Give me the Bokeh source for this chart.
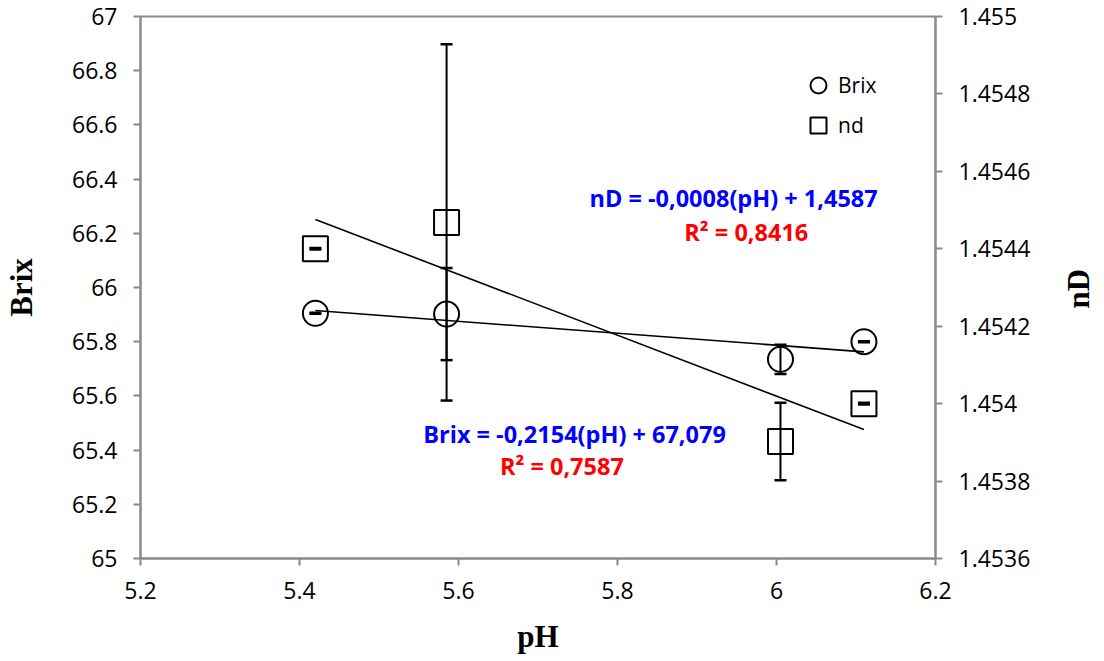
import numpy as np
from bokeh.plotting import figure
from bokeh.layouts import row
from bokeh.models import (Range1d, LinearAxis, FixedTicker, CustomJSTickFormatter,
                          Whisker, TeeHead, ColumnDataSource, Legend, LegendItem, Label)
from bokeh.core.properties import value
from bokeh.embed import file_html
from bokeh.resources import INLINE

# ---- data ----
ph = [5.42, 5.585, 6.005, 6.11]
brix = [65.905, 65.902, 65.735, 65.80]
brix_err = [0.002, 0.17, 0.054, 0.002]
nd = [1.45440, 1.454468, 1.453902, 1.45400]
nd_err = [0.000002, 0.00046, 0.0001, 0.000002]

x_ticks = [5.2, 5.4, 5.6, 5.8, 6.0, 6.2]
brix_ticks = [65.0, 65.2, 65.4, 65.6, 65.8, 66.0, 66.2, 66.4, 66.6, 66.8, 67.0]
nd_ticks = [1.4536, 1.4538, 1.4540, 1.4542, 1.4544, 1.4546, 1.4548, 1.4550]

eq_nd = "nD = -0,0008(pH) + 1,4587"
r2_nd = "R² = 0,8416"
eq_brix = "Brix = -0,2154(pH) + 67,079"
r2_brix = "R² = 0,7587"

AX = "#8a8a8a"
TICKFONT = "Open Sans"

p = figure(width=1060, height=661, x_range=Range1d(5.2, 6.2), y_range=Range1d(65, 67),
           output_backend="svg", toolbar_location=None,
           min_border_left=140, min_border_right=125, min_border_top=16, min_border_bottom=103,
           background_fill_color="white", border_fill_color="white")
p.extra_y_ranges = {"nd": Range1d(1.4536, 1.4550)}
p.xgrid.visible = False
p.ygrid.visible = False
p.outline_line_color = AX
p.outline_line_width = 2

fmt = CustomJSTickFormatter(code="return String(parseFloat(tick.toFixed(6)));")

right_axis = LinearAxis(y_range_name="nd")
p.add_layout(right_axis, "right")

p.xaxis.ticker = FixedTicker(ticks=x_ticks)
p.yaxis[0].ticker = FixedTicker(ticks=brix_ticks)
right_axis.ticker = FixedTicker(ticks=nd_ticks)

for ax in [p.xaxis[0], p.yaxis[0], right_axis]:
    ax.formatter = fmt
    ax.axis_line_color = AX
    ax.axis_line_width = 2
    ax.major_tick_line_color = AX
    ax.major_tick_line_width = 2
    ax.major_tick_out = 7
    ax.major_tick_in = 0
    ax.minor_tick_line_color = None
    ax.major_label_text_font = TICKFONT
    ax.major_label_text_font_size = "23px"
    ax.major_label_text_color = "black"
    ax.major_label_standoff = 16
    ax.axis_label_text_font = "Liberation Serif"
    ax.axis_label_text_font_style = "bold"
    ax.axis_label_text_font_size = "31px"
    ax.axis_label_text_color = "black"

p.xaxis.axis_label = "pH"
p.yaxis[0].axis_label = "Brix"
p.xaxis.axis_label_standoff = 17
p.yaxis[0].axis_label_standoff = 30

# ---- markers ----
r_brix = p.scatter(ph, brix, marker="circle", size=25, fill_color="white",
                   line_color="black", line_width=2)
r_nd = p.scatter(ph, nd, marker="square", size=25, fill_color="white",
                 line_color="black", line_width=2, y_range_name="nd")

# ---- error bars ----
src_b = ColumnDataSource(dict(x=ph,
                              lo=[b - e for b, e in zip(brix, brix_err)],
                              hi=[b + e for b, e in zip(brix, brix_err)]))
src_n = ColumnDataSource(dict(x=ph,
                              lo=[n - e for n, e in zip(nd, nd_err)],
                              hi=[n + e for n, e in zip(nd, nd_err)]))
for src, rng in [(src_b, "default"), (src_n, "nd")]:
    w = Whisker(source=src, base="x", lower="lo", upper="hi", dimension="height",
                line_color="black", line_width=2, y_range_name=rng, level="annotation",
                upper_head=TeeHead(size=12, line_width=2.5, line_color="black"),
                lower_head=TeeHead(size=12, line_width=2.5, line_color="black"))
    p.add_layout(w)

# ---- trend lines (least squares over the data range) ----
xs = np.array([min(ph), max(ph)])
cb = np.polyfit(ph, brix, 1)
cn = np.polyfit(ph, nd, 1)
p.line(xs, np.polyval(cb, xs), line_color="black", line_width=1.6)
p.line(xs, np.polyval(cn, xs), line_color="black", line_width=1.6, y_range_name="nd")

# ---- legend ----
legend = Legend(items=[LegendItem(label="Brix", renderers=[r_brix]),
                       LegendItem(label="nd", renderers=[r_nd])],
                location=(658, 413), glyph_width=40, glyph_height=40, spacing=0,
                label_standoff=0, padding=0, margin=0, border_line_color=None,
                background_fill_alpha=0, label_text_font=TICKFONT,
                label_text_font_size="21px", label_text_color="black")
p.add_layout(legend)

# ---- equation annotations ----
for txt, x, y, col in [(eq_nd, 5.946, 66.332, "#0000ff"), (r2_nd, 5.962, 66.203, "#ff0000"),
                       (eq_brix, 5.746, 65.458, "#0000ff"), (r2_brix, 5.730, 65.343, "#ff0000")]:
    p.add_layout(Label(x=x, y=y, text=txt, text_align="center", text_baseline="middle",
                       text_font=TICKFONT, text_font_style="bold", text_font_size="23.5px",
                       text_color=col))

# ---- right axis title strip (reads bottom-to-top like the left title) ----
p2 = figure(width=44, height=661, x_range=Range1d(0, 1), y_range=Range1d(0, 1),
            output_backend="svg", toolbar_location=None, min_border=0,
            background_fill_color="white", border_fill_color="white")
p2.axis.visible = False
p2.grid.visible = False
p2.outline_line_color = None
p2.text(x=[0.41], y=[0.498], text=["nD"], angle=np.pi / 2, text_align="center",
        text_baseline="middle", text_font=value("Liberation Serif"),
        text_font_style="bold", text_font_size="31px", text_color="black")

layout = row(p, p2, spacing=0)
open("out.html", "w").write(file_html(layout, INLINE))
